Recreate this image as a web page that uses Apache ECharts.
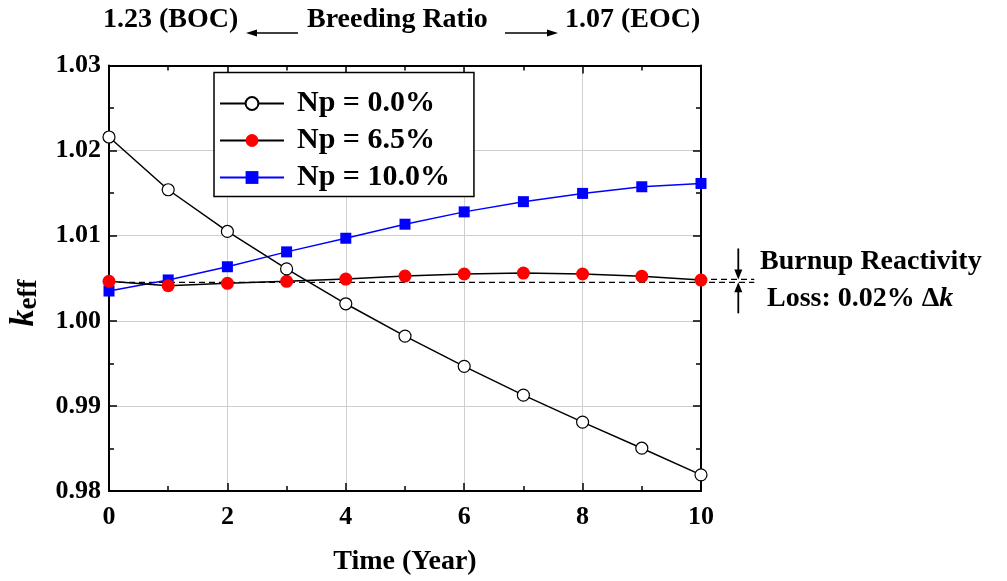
<!DOCTYPE html>
<html>
<head>
<meta charset="utf-8">
<script src="https://cdn.jsdelivr.net/npm/echarts@6/dist/echarts.min.js"></script>
<style>
html,body{margin:0;padding:0;background:#fff;}
#chart{width:1007px;height:581px;}
</style>
</head>
<body>
<div id="chart"></div>
<script>
// ---- data ----
const years = [0, 1, 2, 3, 4, 5, 6, 7, 8, 9, 10];
const np00 = [1.0216, 1.0154, 1.0105, 1.0061, 1.0020, 0.9982, 0.99465, 0.99126, 0.9881, 0.98503, 0.9819];
const np65 = [1.00464, 1.00413, 1.00440, 1.00464, 1.00490, 1.00526, 1.00550, 1.00561, 1.00550, 1.00523, 1.00478];
const np100 = [1.0035, 1.0048, 1.00635, 1.0081, 1.0097, 1.01135, 1.0128, 1.0140, 1.01497, 1.01575, 1.01614];
const seriesNames = ['Np = 0.0%', 'Np = 6.5%', 'Np = 10.0%'];
const dashLow = 1.00452;   // BOC reference level
const dashUp = 1.00486;    // EOC reference level
const dashStartLow = 0, dashStartUp = 10, dashEnd = 10.9;
const xTicks = {min: 0, max: 10, interval: 2};
const yTicks = {min: 0.98, max: 1.03, interval: 0.01};

const FONT = '"Liberation Serif", "Times New Roman", serif';
const pair = (xs, ys) => xs.map((x, i) => [x, ys[i]]);

const axisCommon = {
  axisLine: {show: true, onZero: false, lineStyle: {color: '#000', width: 2}},
  axisTick: {show: true, inside: true, length: 8, lineStyle: {color: '#000', width: 1.5}},
  minorTick: {show: true, splitNumber: 2, length: 5, lineStyle: {color: '#000', width: 1.5}},
};

const chart = echarts.init(document.getElementById('chart'), null, {renderer: 'canvas'});
const option = {
  backgroundColor: '#fff',
  animation: false,
  grid: {left: 109, right: 306, top: 65.5, bottom: 88.5},
  xAxis: [
    Object.assign({
      type: 'value', position: 'bottom', min: xTicks.min, max: xTicks.max, interval: xTicks.interval,
      splitLine: {show: true, lineStyle: {color: '#cfcfcf', width: 1}},
      axisLabel: {color: '#000', fontFamily: FONT, fontWeight: 'bold', fontSize: 26, margin: 13},
      name: 'Time (Year)', nameLocation: 'middle', nameGap: 57,
      nameTextStyle: {color: '#000', fontFamily: FONT, fontWeight: 'bold', fontSize: 28, verticalAlign: 'top'}
    }, axisCommon),
    Object.assign({
      type: 'value', position: 'top', min: xTicks.min, max: xTicks.max, interval: xTicks.interval,
      splitLine: {show: false}, axisLabel: {show: false}
    }, axisCommon)
  ],
  yAxis: [
    Object.assign({
      type: 'value', position: 'left', min: yTicks.min, max: yTicks.max, interval: yTicks.interval,
      splitLine: {show: true, lineStyle: {color: '#cfcfcf', width: 1}},
      axisLabel: {color: '#000', fontFamily: FONT, fontWeight: 'bold', fontSize: 26, margin: 8,
        formatter: v => v.toFixed(2)}
    }, axisCommon),
    Object.assign({
      type: 'value', position: 'right', min: yTicks.min, max: yTicks.max, interval: yTicks.interval,
      splitLine: {show: false}, axisLabel: {show: false}
    }, axisCommon)
  ],
  legend: {
    data: seriesNames,
    orient: 'vertical', left: 214, top: 72.5,
    backgroundColor: '#fff', borderColor: '#000', borderWidth: 1.5,
    padding: [16, 24, 4, 5],
    itemWidth: 64, itemHeight: 16, itemGap: 7,
    textStyle: {color: '#000', fontFamily: FONT, fontWeight: 'bold', fontSize: 30, lineHeight: 30, padding: [0, 0, 0, 8]}
  },
  series: [
    {
      name: seriesNames[2], type: 'line', data: pair(years, np100), clip: true, z: 3,
      symbol: 'rect', symbolSize: 11,
      lineStyle: {color: '#0000ff', width: 1.5},
      itemStyle: {color: '#0000ff'}
    },
    {
      name: seriesNames[1], type: 'line', data: pair(years, np65), clip: true, z: 3,
      symbol: 'circle', symbolSize: 13,
      lineStyle: {color: '#000', width: 1.5},
      itemStyle: {color: '#ff0000'}
    },
    {
      name: seriesNames[0], type: 'line', data: pair(years, np00), clip: true, z: 4,
      symbol: 'circle', symbolSize: 12,
      lineStyle: {color: '#000', width: 1.5},
      itemStyle: {color: '#fff', borderColor: '#000', borderWidth: 1.2}
    }
  ]
};
chart.setOption(option);

// ---- annotations positioned through the chart's own scales ----
const px = x => chart.convertToPixel({xAxisIndex: 0}, x);
const py = y => chart.convertToPixel({yAxisIndex: 0}, y);
const yL = py(dashLow), yU = py(dashUp);
const xa = px(10.63);
const txt = (text, x, y, size) => ({
  type: 'text', x: x, y: y,
  style: {text: text, fill: '#000', font: 'bold ' + size + 'px ' + FONT, verticalAlign: 'middle', align: 'left'}
});
const seg = (x1, y1, x2, y2, w, dash) => ({type: 'line', z: 2, shape: {x1, y1, x2, y2},
  style: {stroke: '#000', lineWidth: w || 1.6, lineDash: dash || null}});
const head = pts => ({type: 'polygon', shape: {points: pts}, style: {fill: '#000'}});

chart.setOption({
  graphic: [
    // top line
    txt('1.23 (BOC)', 103, 20, 28),
    seg(254, 33, 298, 33), head([[246, 33], [257, 29.5], [257, 36.5]]),
    txt('Breeding Ratio', 307, 20, 28),
    seg(505, 33, 549, 33), head([[558, 33], [547, 29.5], [547, 36.5]]),
    txt('1.07 (EOC)', 565, 20, 28),
    // y axis title
    {
      type: 'text', x: 24, y: 303, rotation: Math.PI / 2,
      style: {
        text: '{k|k}{e|eff}', align: 'center', verticalAlign: 'middle', fill: '#000',
        rich: {
          k: {font: 'italic bold 34px ' + FONT, fill: '#000'},
          e: {font: 'bold 27px ' + FONT, fill: '#000', padding: [0, 0, -10, 0]}
        }
      }
    },
    // dashed reference levels
    seg(px(dashStartLow), yL, px(dashEnd), yL, 1.2, [6, 4]),
    seg(px(dashStartUp), yU, px(dashEnd), yU, 1.2, [6, 4]),
    // burnup annotation arrows
    seg(xa, yU - 31, xa, yU - 8, 1.8), head([[xa, yU], [xa - 4, yU - 10], [xa + 4, yU - 10]]),
    seg(xa, yL + 31, xa, yL + 8, 1.8), head([[xa, yL], [xa - 4, yL + 10], [xa + 4, yL + 10]]),
    txt('Burnup Reactivity', 760, 262, 28),
    {
      type: 'text', x: 767, y: 299,
      style: {
        text: '{n|Loss: 0.02% Δ}{i|k}', verticalAlign: 'middle', align: 'left', fill: '#000',
        rich: {
          n: {font: 'bold 28px ' + FONT, fill: '#000'},
          i: {font: 'italic bold 28px ' + FONT, fill: '#000'}
        }
      }
    }
  ]
});
</script>
</body>
</html>
